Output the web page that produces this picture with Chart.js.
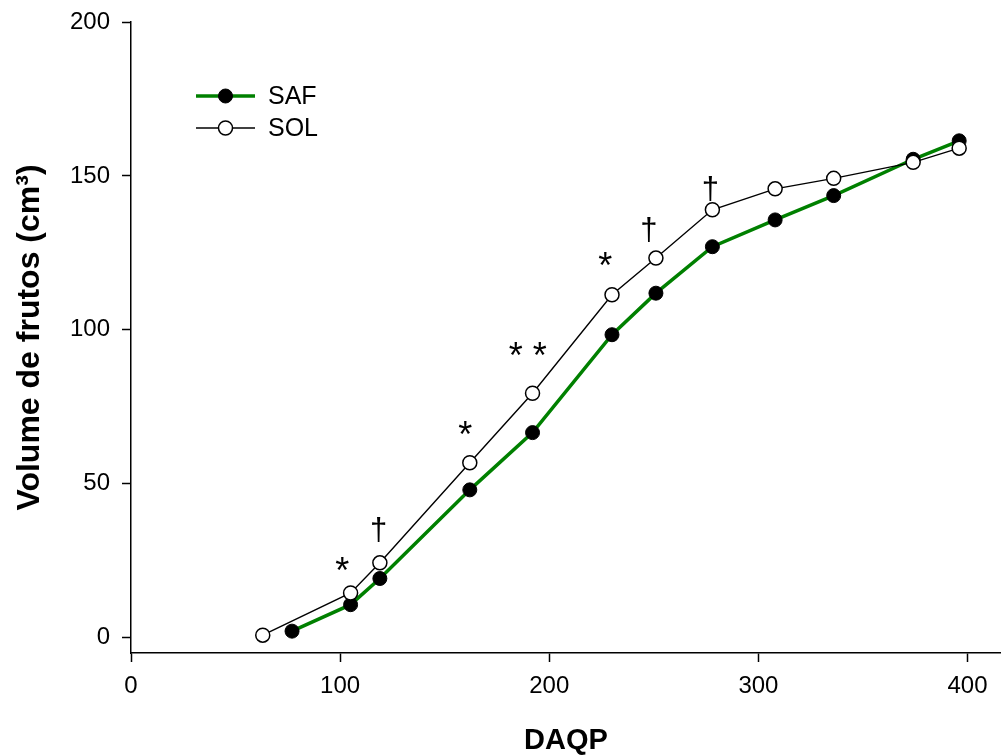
<!DOCTYPE html>
<html><head><meta charset="utf-8">
<script src="https://cdn.jsdelivr.net/npm/chart.js@4/dist/chart.umd.min.js"></script>
<style>html,body{margin:0;padding:0;background:#fff;overflow:hidden}canvas{display:block}</style>
</head><body><canvas id="c" width="1001" height="755"></canvas>
<script>
// Days after ... (DAQP)
const safDays = [77, 105, 119, 162, 192, 230, 251, 278, 308, 336, 374, 396];
const safVolume = [2.1, 10.7, 19.2, 48.0, 66.6, 98.4, 111.9, 127.0, 135.7, 143.6, 155.4, 161.4];
const solDays = [63, 105, 119, 162, 192, 230, 251, 278, 308, 336, 374, 396];
const solVolume = [0.8, 14.5, 24.3, 56.8, 79.4, 111.4, 123.3, 139.0, 145.8, 149.2, 154.4, 159.0];
// significance marks (text annotations, in data units)
const markLabels = ['*', '†', '*', '* *', '*', '†', '†'];
const markDays = [101, 118.4, 159.8, 189.7, 226.8, 247.6, 277];
const markValues = [23.1, 35.4, 67.5, 93.2, 122.4, 132.8, 146.4];
const xTicks = [0, 100, 200, 300, 400];
const yTicks = [0, 50, 100, 150, 200];
const seriesNames = ['SAF', 'SOL'];

const FONT = "'Liberation Sans', Arial, sans-serif";
const GREEN = '#008000';

const toPts = (xs, ys) => xs.map((x, i) => ({x: x, y: ys[i]}));

const legendPlugin = {
  id: 'inLegend',
  afterDatasetsDraw(chart) {
    const ctx = chart.ctx;
    const items = [
      {ds: chart.data.datasets.find(d => d.label === seriesNames[0]), y: 96},
      {ds: chart.data.datasets.find(d => d.label === seriesNames[1]), y: 128}
    ];
    ctx.save();
    items.forEach(it => {
      const d = it.ds;
      ctx.strokeStyle = d.borderColor;
      ctx.lineWidth = d.borderWidth;
      ctx.beginPath(); ctx.moveTo(196, it.y); ctx.lineTo(255, it.y); ctx.stroke();
      ctx.beginPath(); ctx.arc(225.5, it.y, d.pointRadius, 0, Math.PI * 2);
      ctx.fillStyle = d.pointBackgroundColor; ctx.fill();
      ctx.lineWidth = d.pointBorderWidth; ctx.strokeStyle = d.pointBorderColor; ctx.stroke();
      ctx.fillStyle = '#000';
      ctx.font = '25px ' + FONT;
      ctx.textBaseline = 'middle';
      ctx.textAlign = 'left';
      ctx.fillText(d.label, 268, it.y + 1);
    });
    ctx.restore();
  }
};

const marksPlugin = {
  id: 'marks',
  afterDatasetsDraw(chart) {
    const xs = chart.scales.x, ys = chart.scales.y;
    const ctx = chart.ctx;
    ctx.save();
    ctx.fillStyle = '#000';
    ctx.textAlign = 'center';
    ctx.textBaseline = 'middle';
    markLabels.forEach((m, i) => {
      const px = xs.getPixelForValue(markDays[i]);
      const py = ys.getPixelForValue(markValues[i]);
      if (m.indexOf('*') >= 0) {
        ctx.font = '36px ' + FONT;
        ctx.fillText(m, px, py + 7);
      } else {
        ctx.font = '31px ' + FONT;
        ctx.fillText(m, px, py + 3);
      }
    });
    ctx.restore();
  }
};

const noPad = s => { s.paddingLeft = 0; s.paddingRight = 0; s.paddingTop = 0; s.paddingBottom = 0; };

new Chart(document.getElementById('c'), {
  type: 'line',
  data: {
    datasets: [
      {
        label: seriesNames[0], data: toPts(safDays, safVolume), order: 2,
        borderColor: GREEN, borderWidth: 3.5, tension: 0,
        pointRadius: 7, pointHoverRadius: 7,
        pointBackgroundColor: '#000', pointBorderColor: '#000', pointBorderWidth: 1
      },
      {
        label: seriesNames[1], data: toPts(solDays, solVolume), order: 1,
        borderColor: '#000', borderWidth: 1.4, tension: 0,
        pointRadius: 7, pointHoverRadius: 7,
        pointBackgroundColor: '#fff', pointBorderColor: '#000', pointBorderWidth: 1.5
      }
    ]
  },
  options: {
    responsive: false, animation: false,
    devicePixelRatio: 1,
    layout: {autoPadding: false, padding: {top: 22, right: 0, left: 0, bottom: 0}},
    plugins: {legend: {display: false}, tooltip: {enabled: false}},
    events: [],
    scales: {
      x: {
        type: 'linear', position: 'bottom', min: 0, max: 416,
        afterBuildTicks: s => { s.ticks = xTicks.map(v => ({value: v})); },
        afterFit: s => { s.height = 102; noPad(s); },
        ticks: {color: '#000', font: {family: FONT, size: 24}, padding: 10, maxRotation: 0},
        grid: {drawOnChartArea: false, drawTicks: true, tickLength: 9, tickColor: '#000', tickWidth: 1.5},
        border: {display: true, color: '#000', width: 1.5},
        title: {display: true, text: 'DAQP', color: '#000',
          font: {family: FONT, size: 29, weight: 'bold', lineHeight: 1}, padding: {top: 0, bottom: 0}}
      },
      y: {
        type: 'linear', position: 'left', min: -5, max: 200,
        afterBuildTicks: s => { s.ticks = yTicks.map(v => ({value: v})); },
        afterFit: s => { s.width = 131; noPad(s); },
        ticks: {color: '#000', font: {family: FONT, size: 24}, padding: 12},
        grid: {drawOnChartArea: false, drawTicks: true, tickLength: 9, tickColor: '#000', tickWidth: 1.5},
        border: {display: true, color: '#000', width: 1.5},
        title: {display: true, text: 'Volume de frutos (cm³)', color: '#000',
          font: {family: FONT, size: 32, weight: 'bold', lineHeight: 1}, padding: {top: 14, bottom: 0}}
      }
    }
  },
  plugins: [legendPlugin, marksPlugin]
});
</script>
</body></html>
